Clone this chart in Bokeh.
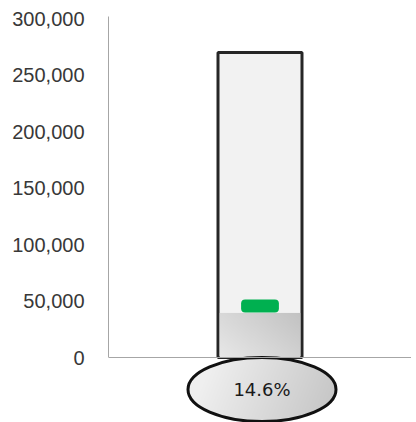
import numpy as np
from bokeh.plotting import figure
from bokeh.models import Range1d, Span, FixedTicker, NumeralTickFormatter
from bokeh.core.properties import value
from bokeh.embed import file_html
from bokeh.resources import INLINE

# ---- data ----
category = ["Progress"]
target = [270000]
actual = [39420]
goal_marker = [45600]
y_ticks = [0, 50000, 100000, 150000, 200000, 250000, 300000]
pct_labels = [f"{a / t * 100:.1f}%" for a, t in zip(actual, target)]

# ---- geometry (pixels) ----
W, H = 411, 422
PX_X = 84.0                 # px per x unit
PX_Y = 339.0 / 300000       # px per y unit
y_start = -65 / PX_Y
y_end = 300000 + 18 / PX_Y
x_start = -151.5 / PX_X
x_end = (W - 108 - 151.5) / PX_X

p = figure(width=W, height=H, output_backend="svg", toolbar_location=None,
           x_range=Range1d(x_start, x_end), y_range=Range1d(y_start, y_end),
           min_border_left=108, min_border_right=0, min_border_top=0,
           min_border_bottom=0, x_axis_location=None)
p.outline_line_color = None
p.grid.visible = False
p.background_fill_color = "white"

ax = p.yaxis[0]
ax.ticker = FixedTicker(ticks=y_ticks)
ax.formatter = NumeralTickFormatter(format="0,0")
ax.bounds = (0, 302000)
ax.major_tick_line_color = None
ax.minor_tick_line_color = None
ax.major_tick_out = 0
ax.major_tick_in = 0
ax.major_label_standoff = 24
ax.axis_line_color = "#a6a6a6"
ax.axis_line_width = 1
ax.major_label_text_font = "Liberation Sans"
ax.major_label_text_font_size = "20px"
ax.major_label_text_color = "#383838"

p.add_layout(Span(location=0, dimension="width", line_color="#a6a6a6", line_width=1))


def hexrgb(h):
    h = h.lstrip("#")
    return np.array([int(h[i:i + 2], 16) for i in (0, 2, 4)], dtype=float)


def gradient(w, h, c0, c1, wx=0.7, wy=0.3, mask=None):
    xs = np.linspace(0, 1, w)[None, :]
    ys = np.linspace(0, 1, h)[:, None]
    t = np.clip(wx * xs + wy * ys, 0, 1)
    a, b = hexrgb(c0), hexrgb(c1)
    rgb = a[None, None, :] * (1 - t[..., None]) + b[None, None, :] * t[..., None]
    img = np.zeros((h, w), dtype=np.uint32)
    v = img.view(dtype=np.uint8).reshape((h, w, 4))
    v[..., 0:3] = rgb.astype(np.uint8)
    v[..., 3] = 255 if mask is None else np.where(mask, 255, 0)
    return img


for i, (t, a, m) in enumerate(zip(target, actual, goal_marker)):
    # outer thermometer tube
    p.vbar(x=[i], width=1.0, bottom=0, top=[t], fill_color="#f2f2f2",
           line_color="#262626", line_width=3)
    # filled part with gradient
    fw = 0.96
    w_px = int(round(fw * PX_X))
    h_px = max(2, int(round(a * PX_Y)))
    img = gradient(w_px, h_px, "#e8e8e8", "#c2c2c2", wx=0.6, wy=0.4)
    p.image_rgba(image=[img], x=i - fw / 2, y=0, dw=fw, dh=a)
    # green goal marker
    half = 6.5 / PX_Y
    p.vbar(x=[i], width=0.45, bottom=[m - half], top=[m + half],
           fill_color="#00b050", line_color=None, border_radius=4)

    # badge ellipse below the axis
    ey = -32 / PX_Y
    ex = i + 2 / PX_X
    ew_px, eh_px = 148, 64
    xs = (np.arange(ew_px) + 0.5 - ew_px / 2) / (ew_px / 2)
    ys = (np.arange(eh_px) + 0.5 - eh_px / 2) / (eh_px / 2)
    mask = (xs[None, :] ** 2 + ys[:, None] ** 2) <= 1.0
    eimg = gradient(ew_px, eh_px, "#efefef", "#bcbcbc", wx=0.85, wy=-0.15, mask=mask)
    p.image_rgba(image=[eimg], x=ex - ew_px / 2 / PX_X, y=ey - eh_px / 2 / PX_Y,
                 dw=ew_px / PX_X, dh=eh_px / PX_Y)
    p.ellipse(x=[ex], y=[ey], width=ew_px, height=eh_px, width_units="screen",
              height_units="screen", fill_color=None, line_color="#111111",
              line_width=3)
    p.text(x=[ex], y=[ey], text=[pct_labels[i]], text_align="center",
           text_baseline="middle", text_font=value("DejaVu Sans"),
           text_font_size="18px", text_color="#1a1a1a")

open("out.html", "w").write(file_html(p, INLINE))
